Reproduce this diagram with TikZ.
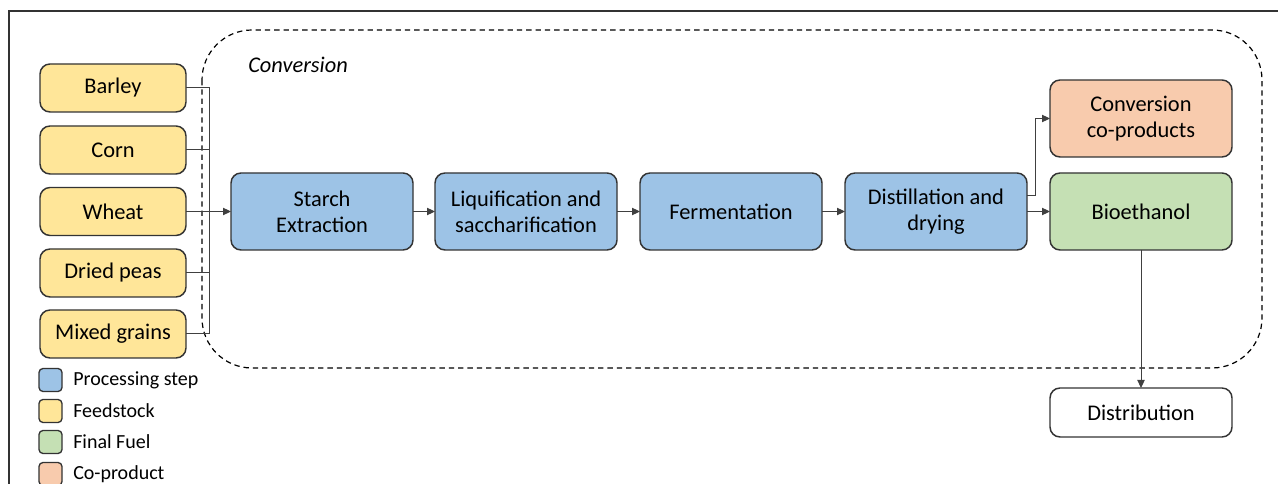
\documentclass[tikz,border=0pt]{standalone}
\usepackage{fontspec}
\setmainfont{Carlito}
\usetikzlibrary{arrows.meta,calc}
\definecolor{procblue}{HTML}{9DC3E6}
\definecolor{feedyellow}{HTML}{FFE699}
\definecolor{fuelgreen}{HTML}{C5E0B4}
\definecolor{coorange}{HTML}{F8CBAD}
\definecolor{edgegray}{HTML}{333333}
\definecolor{linkgray}{HTML}{404040}
\begin{document}
\begin{tikzpicture}[x=0.75pt,y=-0.75pt,
  box/.style={draw=edgegray,line width=1.1pt,rounded corners=7.5pt,
    inner sep=0pt,outer sep=0pt,align=center,text=black,
    font=\fontsize{16.8}{19.5}\selectfont},
  feedbox/.style={box,fill=feedyellow,minimum width=109.5pt,minimum height=36pt},
  procbox/.style={box,fill=procblue,minimum width=136.5pt,minimum height=57.75pt},
  outbox/.style={box,minimum width=136.5pt,minimum height=57.75pt},
  keybox/.style={draw=edgegray,line width=1pt,rounded corners=3pt,
    minimum size=17.25pt,inner sep=0pt,outer sep=0pt},
  keytext/.style={anchor=west,inner sep=0pt,font=\fontsize{15}{18}\selectfont},
  link/.style={draw=linkgray,line width=0.75pt},
  flow/.style={link,-{Triangle[length=6pt,width=5.5pt]}}
]
\useasboundingbox (0,0) rectangle (1278,484);

% frame edges
\draw[edgegray,line width=1.1pt] (9,484) -- (9,11) -- (1278,11);

% conversion stage boundary
\draw[black,line width=0.9pt,dash pattern=on 4pt off 3pt,rounded corners=37.5pt]
  (202,30) rectangle (1262,368);
\node[anchor=west,inner sep=0pt,font=\fontsize{16.8}{19.5}\selectfont\itshape]
  (convlabel) at (248,65) {Conversion};

% feedstocks
\node[feedbox] (barley) at (113,88)    {Barley};
\node[feedbox] (corn)   at (113,150)   {Corn};
\node[feedbox] (wheat)  at (113,211.5) {Wheat};
\node[feedbox] (peas)   at (113,273)   {Dried peas};
\node[feedbox] (mixed)  at (113,334)   {Mixed grains};

% processing chain
\node[procbox] (starch) at (322,211.5) {Starch\\Extraction};
\node[procbox] (liq)    at (526,211.5) {Liquification and\\saccharification};
\node[procbox] (ferm)   at (731,211.5) {Fermentation};
\node[procbox] (dist)   at (936,211.5) {Distillation and\\drying};

% outputs
\node[outbox,fill=coorange]  (coprod) at (1141,118.5) {Conversion\\co-products};
\node[outbox,fill=fuelgreen] (bio)    at (1141,211.5) {Bioethanol};
\node[box,fill=white,minimum width=136.5pt,minimum height=36.75pt]
  (distrib) at (1141,412.5) {Distribution};

% feedstock collector
\coordinate (bustop) at (209,88);
\coordinate (busbot) at (209,334);
\draw[link] (barley.east) -- (bustop) -- (busbot) -- (mixed.east);
\draw[link] (corn.east) -- (corn.east -| bustop);
\draw[link] (peas.east) -- (peas.east -| bustop);
\draw[flow] (wheat.east) -- (starch.west);

% chain links
\draw[flow] (starch.east) -- (liq.west);
\draw[flow] (liq.east) -- (ferm.west);
\draw[flow] (ferm.east) -- (dist.west);
\draw[flow] (dist.east) -- (bio.west);
\coordinate (split) at ($(dist.east)+(0,-15.5)$);
\draw[flow] (split) -- ++(8,0) |- (coprod.west);
\draw[flow] (bio.south) -- (distrib.north);

% legend
\node[keybox,fill=procblue]   (k1) at (50.5,380) {};
\node[keybox,fill=feedyellow] (k2) at (50.5,411) {};
\node[keybox,fill=fuelgreen]  (k3) at (50.5,442) {};
\node[keybox,fill=coorange]   (k4) at (50.5,474) {};
\node[keytext] (t1) at (73,380) {Processing step};
\node[keytext] (t2) at (73,411) {Feedstock};
\node[keytext] (t3) at (73,442) {Final Fuel};
\node[keytext] (t4) at (73,474) {Co-product};
\end{tikzpicture}
\end{document}
